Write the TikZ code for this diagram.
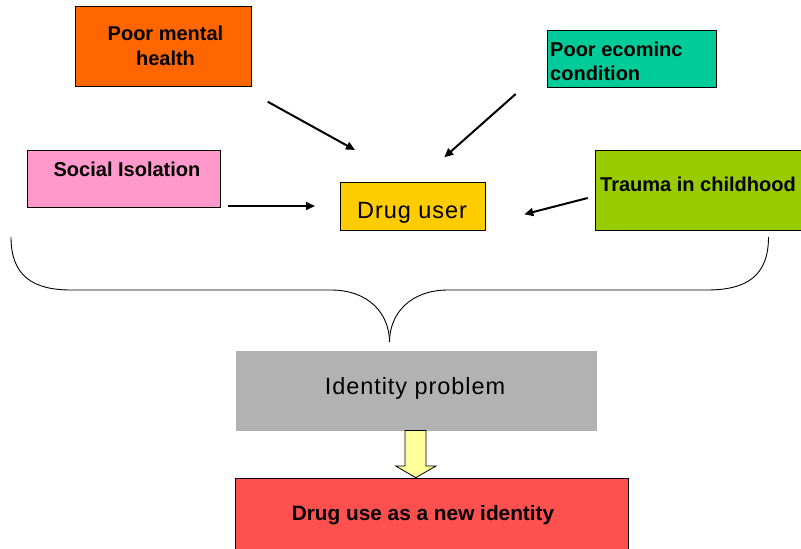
\documentclass[tikz,border=0pt]{standalone}
\usepackage{fontspec}
\setmainfont{Liberation Sans}
\usetikzlibrary{arrows.meta}
\definecolor{cMental}{HTML}{FF6600}
\definecolor{cEcon}{HTML}{00CC99}
\definecolor{cSocial}{HTML}{FF99CC}
\definecolor{cDrug}{HTML}{FFCC00}
\definecolor{cTrauma}{HTML}{99CC00}
\definecolor{cIdent}{HTML}{B2B2B2}
\definecolor{cNew}{HTML}{FF5050}
\definecolor{cBlock}{HTML}{FFFF99}
\tikzset{
  box/.style={draw=black, line width=1.2pt, inner sep=0pt, anchor=north west},
  bt/.style={font=\fontsize{20}{24.5}\selectfont\bfseries, inner sep=0pt},
  rt/.style={font=\fontsize{23.5}{28}\selectfont\addfontfeature{LetterSpace=4}, inner sep=0pt},
  conn/.style={line width=2pt, -{Triangle[length=9pt,width=8pt]}},
  bracepath/.style={line width=0.9pt}
}
\begin{document}
\begin{tikzpicture}[x=1pt,y=-1pt]
\useasboundingbox (0,0) rectangle (801,549);
\clip (0,0) rectangle (801,549);
\fill[white] (0,0) rectangle (801,549);
% boxes
\node[box, fill=cMental, minimum width=176pt, minimum height=80pt] (mh) at (75,6) {};
\node[box, fill=cEcon, minimum width=169pt, minimum height=57pt] (ec) at (547,29.5) {};
\node[box, fill=cSocial, minimum width=193pt, minimum height=56.5pt] (so) at (27,150) {};
\node[box, fill=cDrug, minimum width=145pt, minimum height=48pt] (du) at (339.5,182) {};
\node[box, fill=cTrauma, minimum width=215pt, minimum height=80pt] (tr) at (595,150) {};
\node[box, draw=none, fill=cIdent, minimum width=361pt, minimum height=80.5pt] (ip) at (235,350) {};
\node[box, fill=cNew, minimum width=393pt, minimum height=80pt] (nu) at (235,478) {};
% texts
\node[bt, align=center, anchor=north] (mht) at (165.5,26) {Poor mental\\health};
\node[bt, align=left, anchor=north west] (ect) at (550,41.7) {Poor ecominc\\condition};
\node[bt, anchor=base] (sot) at (127,176) {Social Isolation};
\node[rt, anchor=base] (dut) at (412,218) {Drug user};
\node[bt, anchor=base] (trt) at (698,191.7) {Trauma in childhood};
\node[rt, anchor=base] (ipt) at (415,394) {Identity problem};
\node[bt, font=\fontsize{20.8}{25}\selectfont\bfseries, anchor=base] (nut) at (423,520) {Drug use as a new identity};
% arrow end points
\coordinate (a1s) at (267.7,101.7); \coordinate (a1e) at (355,150);
\coordinate (a2s) at (515.7,94);    \coordinate (a2e) at (444.3,157.3);
\coordinate (a3s) at (227.7,206);   \coordinate (a3e) at (315,206);
\coordinate (a4s) at (587.7,198);   \coordinate (a4e) at (524.3,214.3);
\draw[conn] (a1s) -- (a1e);
\draw[conn] (a2s) -- (a2e);
\draw[conn] (a3s) -- (a3e);
\draw[conn] (a4s) -- (a4e);
% brace
\coordinate (bl) at (11,237);
\coordinate (br) at (768.5,237);
\coordinate (bt) at (389.5,342);
\draw[bracepath] (bl) .. controls (11,276) and (33,290) .. (71,290)
  -- (331,290) .. controls (369,290) and (389.5,314) .. (bt);
\draw[bracepath] (br) .. controls (768.5,276) and (746.5,290) .. (707,290)
  -- (448,290) .. controls (410,290) and (389.5,314) .. (bt);
% block arrow
\draw[fill=cBlock, line width=0.8pt]
  (405,430.5) -- (426,430.5) -- (426,466) -- (436,466) -- (415.8,477.7)
  -- (395.7,466) -- (405,466) -- cycle;
\end{tikzpicture}
\end{document}
